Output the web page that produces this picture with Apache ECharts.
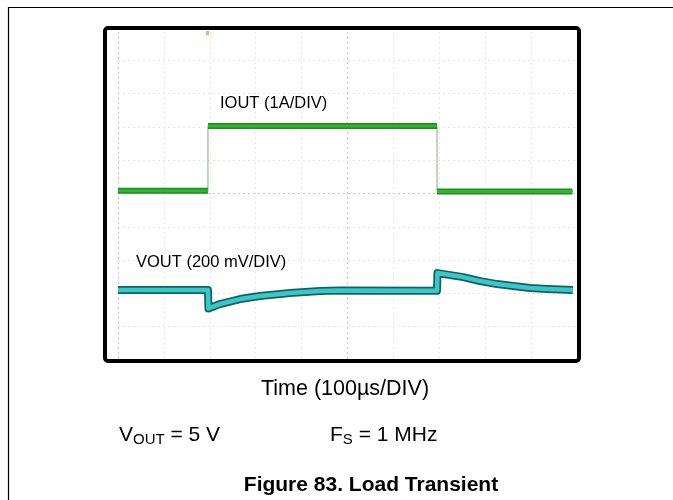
<!DOCTYPE html>
<html>
<head>
<meta charset="utf-8">
<script src="https://cdn.jsdelivr.net/npm/echarts@6/dist/echarts.min.js"></script>
<style>html,body{margin:0;padding:0;background:#fff}#c{width:673px;height:500px}</style>
</head>
<body>
<div id="c"></div>
<script>
// Time axis in divisions (100 µs/DIV), vertical in divisions
const ioutX = [0, 1.96, 1.96, 6.95, 6.95, 9.9];
const ioutY = [5.08, 5.08, 7.03, 7.03, 5.06, 5.06];
const voutX = [0, 1.96, 1.97, 2.22, 2.66, 3.09, 3.75, 4.40, 4.84, 6.95, 6.96, 7.52, 7.89, 8.26, 8.61, 8.98, 9.35, 9.91];
const voutY = [2.10, 2.10, 1.55, 1.68, 1.83, 1.92, 2.01, 2.07, 2.09, 2.08, 2.61, 2.49, 2.37, 2.28, 2.22, 2.16, 2.13, 2.10];
const ioutLabel = 'IOUT (1A/DIV)';
const voutLabel = 'VOUT (200 mV/DIV)';
const xTitle = 'Time (100µs/DIV)';
const figTitle = 'Figure 83. Load Transient';

const ioutAll = ioutX.map((x, i) => [x, ioutY[i]]);
const ioutThick = [];
for (let i = 0; i < ioutX.length; i += 2) {
  if (i > 0) ioutThick.push('-');
  ioutThick.push([ioutX[i], ioutY[i]], [ioutX[i + 1], ioutY[i + 1]]);
}
const vout = voutX.map((x, i) => [x, voutY[i]]);

const gridColors = [];
for (let i = 0; i <= 10; i++) gridColors.push(i === 5 || i === 0 ? '#c4c4c4' : '#e6e6e6');

const chart = echarts.init(document.getElementById('c'), null, {renderer: 'canvas'});
const FONT = '"Liberation Sans", Arial, sans-serif';
chart.setOption({
  animation: false,
  backgroundColor: '#fff',
  grid: {left: 118, top: 27, width: 459, height: 333},
  xAxis: {
    type: 'value', min: 0, max: 10, interval: 1,
    axisLine: {show: false}, axisTick: {show: false}, axisLabel: {show: false},
    splitLine: {show: true, lineStyle: {color: gridColors, type: [2, 3], width: 1}}
  },
  yAxis: {
    type: 'value', min: 0, max: 10, interval: 1,
    axisLine: {show: false}, axisTick: {show: false}, axisLabel: {show: false},
    splitLine: {show: true, lineStyle: {color: gridColors.slice().reverse(), type: [2, 3], width: 1}}
  },
  series: [
    {type: 'line', data: ioutAll, symbol: 'none', lineStyle: {color: '#7aae7a', width: 1}, z: 3},
    {type: 'line', data: ioutThick, symbol: 'none', connectNulls: false, lineStyle: {color: '#1c8f1c', width: 6}, z: 4},
    {type: 'line', data: ioutThick, symbol: 'none', connectNulls: false, lineStyle: {color: '#2fb52f', width: 3}, z: 5},
    {type: 'line', data: vout, symbol: 'none', lineStyle: {color: '#16605f', width: 8, join: 'round'}, z: 4},
    {type: 'line', data: vout, symbol: 'none', lineStyle: {color: '#38c8c8', width: 4.5, join: 'round'}, z: 5}
  ],
  graphic: [
    {type: 'line', shape: {x1: 8, y1: 7.5, x2: 673, y2: 7.5}, style: {stroke: '#000', lineWidth: 1.2}},
    {type: 'line', shape: {x1: 8.5, y1: 7, x2: 8.5, y2: 500}, style: {stroke: '#000', lineWidth: 1.2}},
    {type: 'rect', shape: {x: 105, y: 28, width: 474, height: 333, r: 3}, style: {fill: null, stroke: '#000', lineWidth: 4}, z: 100},
    {type: 'rect', shape: {x: 206, y: 31, width: 3, height: 4}, style: {fill: '#f0b060'}, z: 50},
    {type: 'text', left: 220, top: 95, style: {text: ioutLabel, font: '16.5px ' + FONT, fill: '#000'}, z: 60},
    {type: 'text', left: 136, top: 254, style: {text: voutLabel, font: '16.5px ' + FONT, fill: '#000'}, z: 60},
    {type: 'text', x: 345, y: 389, style: {text: xTitle, font: '21.5px ' + FONT, fill: '#000', align: 'center', verticalAlign: 'middle'}},
    {type: 'text', x: 119, y: 435, style: {
      text: 'V{s|OUT} = 5 V', font: '21px ' + FONT, fill: '#000', verticalAlign: 'middle',
      rich: {s: {fontSize: 15, fontFamily: FONT, padding: [10, 0, 0, 0], fill: '#000'}}
    }},
    {type: 'text', x: 330, y: 435, style: {
      text: 'F{s|S} = 1 MHz', font: '21px ' + FONT, fill: '#000', verticalAlign: 'middle',
      rich: {s: {fontSize: 15, fontFamily: FONT, padding: [10, 0, 0, 0], fill: '#000'}}
    }},
    {type: 'text', x: 371, y: 485, style: {text: figTitle, font: 'bold 21px ' + FONT, fill: '#000', align: 'center', verticalAlign: 'middle'}}
  ]
});
</script>
</body>
</html>
